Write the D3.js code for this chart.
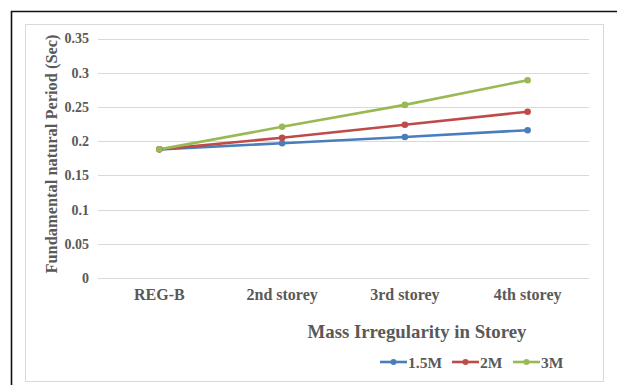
<!DOCTYPE html>
<html><head><meta charset="utf-8">
<script src="https://cdn.jsdelivr.net/npm/d3@7"></script>
<style>body{margin:0;background:#fff;}svg{display:block;}</style>
</head><body>
<script>
const categories = ["REG-B", "2nd storey", "3rd storey", "4th storey"];
const s15 = [0.188, 0.197, 0.206, 0.216];
const s2  = [0.188, 0.205, 0.224, 0.243];
const s3  = [0.188, 0.221, 0.253, 0.289];
const seriesNames = ["1.5M", "2M", "3M"];
const yTicks = [0, 0.05, 0.1, 0.15, 0.2, 0.25, 0.3, 0.35];
const colors = ["#4A7EBB", "#BE4B48", "#98B954"];
const series = [s15, s2, s3];

const W = 617, H = 385;
const svg = d3.select("body").append("svg").attr("width", W).attr("height", H);
const font = "'Liberation Serif','Times New Roman',serif";
const txt = "#595959";

// outer black frame
svg.append("path").attr("d", "M11.5,385 V11.5 H617").attr("fill","none").attr("stroke","#111").attr("stroke-width",1.6);
// inner chart area border
svg.append("rect").attr("x",25.5).attr("y",24.5).attr("width",578).attr("height",357)
  .attr("fill","none").attr("stroke","#d9d9d9").attr("stroke-width",1);

const x = d3.scaleBand().domain(categories).range([98, 589]);
const y = d3.scaleLinear().domain([0, 0.35]).range([278, 38.5]);

// gridlines
svg.append("g").selectAll("line").data(yTicks).join("line")
  .attr("x1", 98).attr("x2", 589)
  .attr("y1", d => Math.round(y(d)) + 0.5).attr("y2", d => Math.round(y(d)) + 0.5)
  .attr("stroke", "#d9d9d9").attr("stroke-width", 1);

// y axis labels
const yAxis = d3.axisLeft(y).tickValues(yTicks).tickSize(0).tickPadding(0)
  .tickFormat(d => d === 0 ? "0" : String(+d.toFixed(2)));
const gy = svg.append("g").attr("transform", "translate(89,0)").call(yAxis);
gy.select(".domain").remove();
gy.selectAll("text").attr("font-family", font).attr("font-weight","bold").attr("font-size", 14).attr("fill", txt);

// x axis labels
const xAxis = d3.axisBottom(x).tickSize(0).tickPadding(0);
const gx = svg.append("g").attr("transform", "translate(0,289)").call(xAxis);
gx.select(".domain").remove();
gx.selectAll("text").attr("font-family", font).attr("font-weight","bold").attr("font-size", 16).attr("fill", txt);

// lines
const line = d3.line().x((d,i) => x(categories[i]) + x.bandwidth()/2).y(d => y(d));
series.forEach((s, k) => {
  svg.append("path").datum(s).attr("d", line).attr("fill","none")
    .attr("stroke", colors[k]).attr("stroke-width", 2.6).attr("stroke-linejoin","round");
});
series.forEach((s, k) => {
  svg.append("g").selectAll("circle").data(s).join("circle")
    .attr("cx", (d,i) => x(categories[i]) + x.bandwidth()/2).attr("cy", d => y(d))
    .attr("r", 3.3).attr("fill", colors[k]);
});

// axis titles
svg.append("text").attr("transform", "translate(57,154) rotate(-90)")
  .attr("text-anchor","middle").attr("font-family", font).attr("font-weight","bold")
  .attr("font-size", 16.4).attr("fill", txt).text("Fundamental natural Period (Sec)");
svg.append("text").attr("x", 417).attr("y", 338)
  .attr("text-anchor","middle").attr("font-family", font).attr("font-weight","bold")
  .attr("font-size", 18.8).attr("fill", txt).text("Mass Irregularity in Storey");

// legend
const legX = [380, 452, 513];
seriesNames.forEach((n, k) => {
  const g = svg.append("g").attr("transform", `translate(${legX[k]},362)`);
  g.append("line").attr("x1",0).attr("x2",27).attr("y1",0).attr("y2",0).attr("stroke",colors[k]).attr("stroke-width",2.6);
  g.append("circle").attr("cx",13.5).attr("cy",0).attr("r",3).attr("fill",colors[k]);
  g.append("text").attr("x",28).attr("y",5.5).attr("font-family", font).attr("font-weight","bold")
    .attr("font-size", 15.5).attr("fill", txt).text(n);
});
</script>
</body></html>
